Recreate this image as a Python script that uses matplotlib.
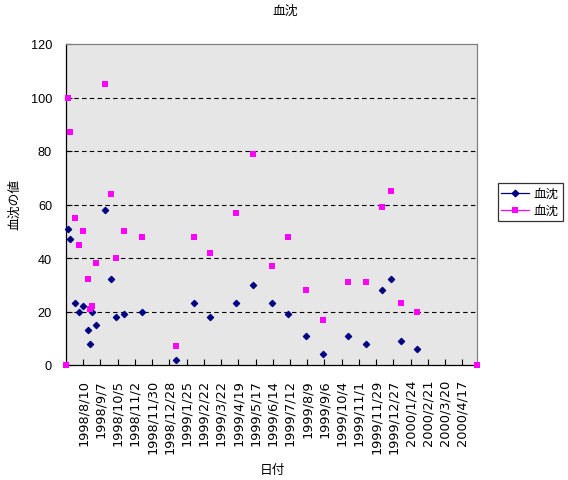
import datetime as dt

import matplotlib

matplotlib.use('Agg')

import matplotlib.pyplot as plt
from matplotlib.lines import Line2D

# measurement dates (both series share them)
dates = [
    '1998/7/17', '1998/7/20', '1998/7/28', '1998/8/3', '1998/8/10', '1998/8/18',
    '1998/8/21', '1998/8/24', '1998/8/31', '1998/9/14', '1998/9/24', '1998/10/2',
    '1998/10/15', '1998/11/14', '1999/1/8', '1999/2/6', '1999/3/4', '1999/4/16',
    '1999/5/13', '1999/6/12', '1999/7/9', '1999/8/7', '1999/9/3', '1999/10/15',
    '1999/11/12', '1999/12/9', '1999/12/24', '2000/1/8', '2000/2/4',
]
esr_1h = [51, 47, 23, 20, 22, 13, 8, 20, 15, 58, 32, 18, 19, 20, 2, 23, 18, 23,
          30, 23, 19, 11, 4, 11, 8, 28, 32, 9, 6]
esr_2h = [100, 87, 55, 45, 50, 32, 21, 22, 38, 105, 64, 40, 50, 48, 7, 48, 42, 57,
          79, 37, 48, 28, 17, 31, 31, 59, 65, 23, 20]
# the second series also has two zero points at the ends of the date range
edge_dates = ['1998/7/13', '2000/5/11']
edge_values = [0, 0]

tick_labels = [
    '1998/8/10', '1998/9/7', '1998/10/5', '1998/11/2', '1998/11/30', '1998/12/28',
    '1999/1/25', '1999/2/22', '1999/3/22', '1999/4/19', '1999/5/17', '1999/6/14',
    '1999/7/12', '1999/8/9', '1999/9/6', '1999/10/4', '1999/11/1', '1999/11/29',
    '1999/12/27', '2000/1/24', '2000/2/21', '2000/3/20', '2000/4/17',
]
y_ticks = [0, 20, 40, 60, 80, 100, 120]

NAVY = '#000080'
PINK = '#FF00FF'
CJK = ['Noto Sans CJK JP', 'DejaVu Sans']


def to_date(s):
    y, m, d = (int(v) for v in s.split('/'))
    return dt.date(y, m, d)


x = [to_date(s) for s in dates]
x_edge = [to_date(s) for s in edge_dates]
x_ticks = [to_date(s) for s in tick_labels]

fig = plt.figure(figsize=(5.68, 4.81), dpi=100)
fig.patch.set_facecolor('white')
ax = fig.add_axes([66 / 568, 1 - 366 / 481, (477 - 66) / 568, (366 - 45) / 481])
ax.set_facecolor('#E6E6E6')

ax.plot(x, esr_1h, linestyle='none', marker='D', markersize=3.3,
        color=NAVY, markeredgecolor=NAVY, markeredgewidth=0.8, clip_on=False, zorder=3)
ax.plot(x + x_edge, esr_2h + edge_values, linestyle='none', marker='s', markersize=4.2,
        color=PINK, markeredgewidth=0, clip_on=False, zorder=4)

ax.set_xlim(x_edge[0], x_edge[1])
ax.set_ylim(0, 120)

ax.set_yticks(y_ticks)
ax.set_yticklabels([str(v) for v in y_ticks], family=['Liberation Sans Narrow', 'Liberation Sans'],
                   fontsize=9.2)
ax.tick_params(axis='y', direction='in', length=4, width=0.8, pad=10, color='black')

ax.set_xticks(x_ticks)
ax.set_xticklabels(tick_labels, rotation=90, family='DejaVu Sans', fontsize=9.3,
                   va='top', ha='center')
ax.tick_params(axis='x', direction='in', length=4, width=0.8, pad=10, color='black')

for v in y_ticks[1:-1]:
    ax.axhline(v, color='black', linewidth=0.8, linestyle=(0, (4, 3)), zorder=1)

ax.spines['left'].set_color('black')
ax.spines['bottom'].set_color('black')
ax.spines['top'].set_color('#808080')
ax.spines['right'].set_color('#808080')
for sp in ax.spines.values():
    sp.set_linewidth(0.9)

fig.text(285 / 568, 1 - 11 / 481, '血沈', family=CJK, fontsize=9.2, ha='center', va='center')
fig.text(15 / 568, 1 - 205 / 481, '血沈の値', family=CJK, fontsize=9.2, rotation=90,
         ha='center', va='center')
fig.text(272 / 568, 1 - 471 / 481, '日付', family=CJK, fontsize=9.2, ha='center', va='center')

handles = [
    Line2D([], [], color=NAVY, linewidth=0.9, marker='D', markersize=3.3),
    Line2D([], [], color=PINK, linewidth=0.9, marker='s', markersize=4.2, markeredgewidth=0),
]
leg = fig.legend(handles, ['血沈', '血沈'], loc='center',
                 bbox_to_anchor=(530 / 568, 1 - 203 / 481),
                 prop={'family': CJK, 'size': 9}, frameon=True, fancybox=False,
                 edgecolor='black', handlelength=2.2, handletextpad=0.4,
                 labelspacing=0.3, borderpad=0.3, borderaxespad=0)
leg.get_frame().set_linewidth(0.9)

fig.savefig('out.png', dpi=100)
